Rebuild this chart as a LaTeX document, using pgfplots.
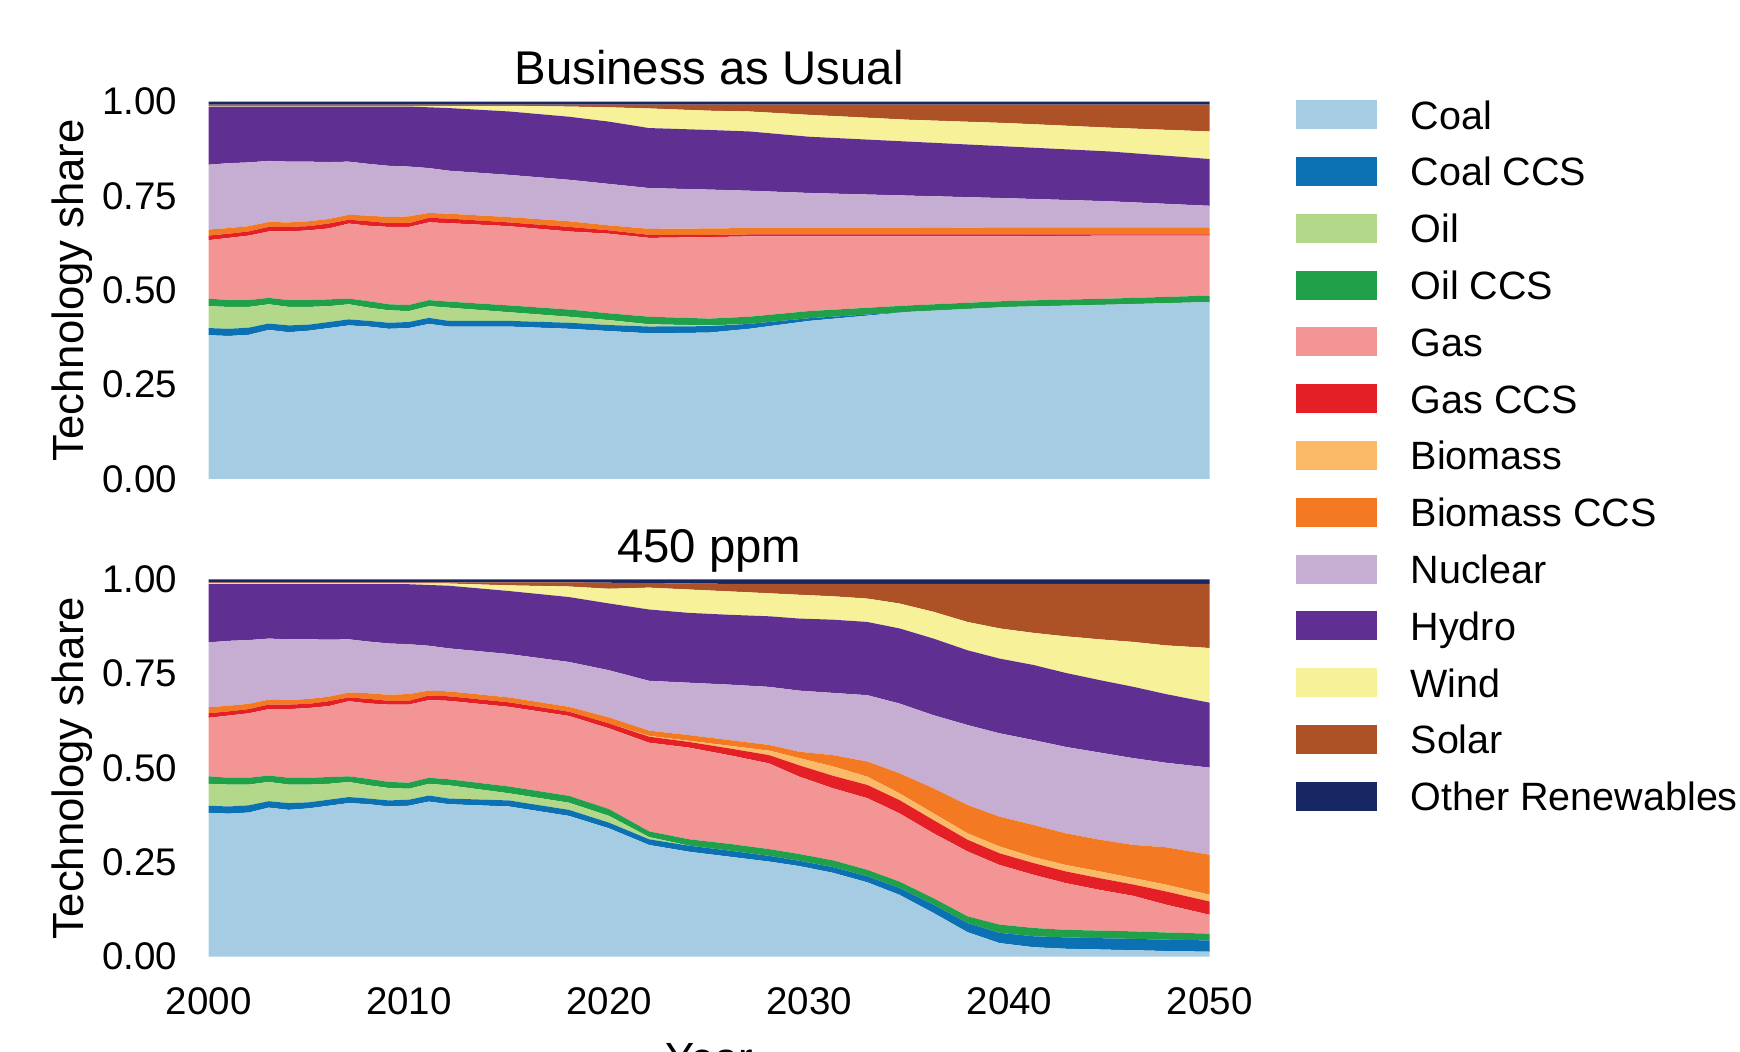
\documentclass[border=0pt]{standalone}
\usepackage{fontspec}
\setmainfont{Liberation Sans}
\usepackage{pgfplots}
\usepackage{pgfplotstable}
\pgfplotsset{compat=1.18}

\definecolor{cCoal}{HTML}{A5CCE2}
\definecolor{cCoalCCS}{HTML}{0B71B3}
\definecolor{cOil}{HTML}{B3D88A}
\definecolor{cOilCCS}{HTML}{1FA049}
\definecolor{cGas}{HTML}{F49595}
\definecolor{cGasCCS}{HTML}{E41F26}
\definecolor{cBio}{HTML}{FBBA68}
\definecolor{cBioCCS}{HTML}{F37A22}
\definecolor{cNuc}{HTML}{C5AED2}
\definecolor{cHydro}{HTML}{5F3091}
\definecolor{cWind}{HTML}{F7F29A}
\definecolor{cSolar}{HTML}{AD5126}
\definecolor{cOther}{HTML}{172764}

\pgfplotstableread{
year coal coalccs oil oilccs gas gasccs bio bioccs nuc hydro wind solar other
2000 .381 .019 .058 .020 .155 .012 0 .016 .172 .154 .002 .003 .008
2001 .379 .019 .058 .018 .165 .011 0 .015 .172 .150 .002 .003 .008
2002 .382 .019 .055 .018 .171 .011 0 .014 .169 .148 .002 .003 .008
2003 .395 .017 .051 .017 .176 .012 0 .013 .162 .144 .002 .003 .008
2004 .389 .018 .049 .018 .182 .012 0 .012 .161 .146 .002 .003 .008
2005 .393 .016 .047 .018 .185 .011 0 .013 .158 .146 .002 .003 .008
2006 .400 .016 .042 .018 .188 .013 0 .012 .151 .147 .002 .003 .008
2007 .407 .016 .040 .015 .199 .010 0 .013 .141 .146 .002 .003 .008
2008 .404 .015 .035 .017 .200 .012 0 .015 .137 .152 .002 .003 .008
2009 .398 .016 .033 .016 .205 .010 0 .016 .136 .157 .002 .003 .008
2010 .400 .016 .029 .016 .207 .010 0 .018 .132 .159 .002 .003 .008
2011 .411 .016 .031 .016 .206 .012 0 .013 .119 .161 .004 .003 .008
2012 .404 .015 .035 .016 .208 .012 0 .013 .114 .166 .006 .003 .008
2015 .404 .015 .023 .018 .210 .010 0 .014 .112 .168 .015 .003 .008
2018 .398 .016 .016 .019 .207 .012 0 .015 .110 .167 .027 .005 .008
2020 .392 .016 .013 .018 .211 .009 0 .013 .110 .165 .038 .007 .008
2022 .386 .018 .006 .020 .209 .008 0 .016 .108 .159 .052 .010 .008
2025 .388 .017 .002 .018 .216 .006 0 .017 .103 .158 .051 .016 .008
2027 .398 .013 0 .019 .213 .005 0 .017 .099 .157 .053 .018 .008
2030 .419 .007 0 .019 .198 .005 0 .017 .093 .149 .058 .027 .008
2035 .443 0 0 .017 .183 .005 0 .017 .086 .143 .058 .040 .008
2040 .456 0 0 .016 .171 .005 0 .019 .077 .137 .062 .049 .008
2045 .462 0 0 .016 .167 .003 0 .019 .069 .132 .063 .061 .008
2050 .469 0 0 .017 .159 .003 0 .019 .057 .124 .073 .071 .008
}\bau

\pgfplotstableread{
year coal coalccs oil oilccs gas gasccs bio bioccs nuc hydro wind solar other
2000 .381 .019 .058 .020 .155 .012 0 .016 .172 .154 .002 .003 .008
2001 .379 .019 .058 .018 .165 .011 0 .015 .172 .150 .002 .003 .008
2002 .382 .019 .055 .018 .171 .011 0 .014 .169 .148 .002 .003 .008
2003 .395 .017 .051 .017 .176 .012 0 .013 .162 .144 .002 .003 .008
2004 .389 .018 .049 .018 .182 .012 0 .012 .161 .146 .002 .003 .008
2005 .393 .016 .047 .018 .185 .011 0 .013 .158 .146 .002 .003 .008
2006 .400 .016 .042 .018 .188 .013 0 .012 .151 .147 .002 .003 .008
2007 .407 .016 .040 .015 .199 .010 0 .013 .141 .146 .002 .003 .008
2008 .404 .015 .035 .017 .200 .012 0 .015 .137 .152 .002 .003 .008
2009 .398 .016 .033 .016 .205 .010 0 .016 .136 .157 .002 .003 .008
2010 .400 .016 .029 .016 .207 .010 0 .018 .132 .159 .002 .003 .008
2011 .411 .016 .031 .016 .206 .012 0 .013 .119 .161 .004 .003 .008
2012 .404 .015 .035 .016 .208 .012 0 .013 .114 .166 .006 .003 .008
2015 .398 .016 .019 .018 .211 .012 0 .013 .115 .167 .015 .008 .008
2018 .373 .016 .019 .018 .212 .011 0 .013 .119 .172 .028 .011 .008
2020 .340 .015 .018 .018 .214 .013 0 .016 .125 .177 .039 .016 .009
2022 .296 .015 .006 .015 .235 .016 .002 .014 .132 .189 .058 .012 .010
2024 .278 .016 0 .017 .243 .015 .003 .015 .139 .185 .062 .016 .011
2026 .265 .016 0 .018 .235 .018 .007 .015 .147 .185 .062 .020 .012
2028 .252 .015 0 .018 .227 .022 .012 .015 .154 .187 .061 .025 .012
2029.5 .240 .014 0 .018 .205 .030 .019 .017 .162 .191 .063 .029 .012
2031.2 .222 .015 0 .018 .191 .033 .025 .030 .165 .194 .062 .033 .012
2032.9 .197 .016 0 .017 .190 .035 .022 .040 .176 .194 .062 .039 .012
2034.5 .164 .018 0 .017 .181 .035 .018 .053 .185 .199 .066 .052 .012
2036.2 .116 .022 0 .017 .172 .035 .018 .066 .194 .203 .071 .074 .012
2037.9 .065 .024 0 .018 .172 .031 .017 .075 .212 .198 .075 .101 .012
2039.5 .036 .027 0 .022 .158 .031 .018 .079 .221 .198 .080 .118 .012
2041.2 .025 .029 0 .022 .141 .031 .016 .085 .225 .199 .085 .130 .012
2042.8 .021 .030 0 .020 .124 .031 .017 .084 .229 .196 .097 .139 .012
2044.5 .019 .030 0 .020 .108 .031 .018 .084 .231 .192 .108 .147 .012
2046.2 .017 .030 0 .020 .094 .030 .017 .088 .230 .189 .119 .154 .012
2047.8 .015 .030 0 .019 .074 .035 .018 .099 .224 .182 .129 .163 .012
2050 .013 .030 0 .018 .050 .035 .018 .106 .231 .172 .145 .170 .012
}\ppm

\pgfplotsset{
  panel/.style={
    scale only axis, width=300.3pt, height=113.2pt,
    xmin=2000, xmax=2050, ymin=0, ymax=1,
    axis line style={draw=none}, major tick length=0pt, tick style={draw=none},
    ytick={0,0.25,0.5,0.75,1}, yticklabels={0.00,0.25,0.50,0.75,1.00},
    xtick={2000,2010,2020,2030,2040,2050},
    yticklabel style={font=\fontsize{11.55}{13}\selectfont, inner sep=0pt, anchor=east, xshift=-9.3pt},
    xticklabel style={font=\fontsize{11.55}{13}\selectfont, inner sep=0pt, anchor=north, yshift=-9pt},
    ylabel={Technology share},
    ylabel style={font=\fontsize{13.1}{15}\selectfont, at={(axis description cs:-0.1255,0.5)}, anchor=base, inner sep=0pt},
    every axis title shift=0pt,
    title style={font=\fontsize{14.2}{16}\selectfont, at={(axis description cs:0.5,1)}, anchor=base, yshift=5pt, inner sep=0pt},
    stack plots=y, area style,
  },
}

\newcommand{\layers}[1]{%
  \addplot[fill=cCoal, draw=none] table[x=year,y=coal]{#1} \closedcycle;
  \addplot[fill=cCoalCCS, draw=none] table[x=year,y=coalccs]{#1} \closedcycle;
  \addplot[fill=cOil, draw=none] table[x=year,y=oil]{#1} \closedcycle;
  \addplot[fill=cOilCCS, draw=none] table[x=year,y=oilccs]{#1} \closedcycle;
  \addplot[fill=cGas, draw=none] table[x=year,y=gas]{#1} \closedcycle;
  \addplot[fill=cGasCCS, draw=none] table[x=year,y=gasccs]{#1} \closedcycle;
  \addplot[fill=cBio, draw=none] table[x=year,y=bio]{#1} \closedcycle;
  \addplot[fill=cBioCCS, draw=none] table[x=year,y=bioccs]{#1} \closedcycle;
  \addplot[fill=cNuc, draw=none] table[x=year,y=nuc]{#1} \closedcycle;
  \addplot[fill=cHydro, draw=none] table[x=year,y=hydro]{#1} \closedcycle;
  \addplot[fill=cWind, draw=none] table[x=year,y=wind]{#1} \closedcycle;
  \addplot[fill=cSolar, draw=none] table[x=year,y=solar]{#1} \closedcycle;
  \addplot[fill=cOther, draw=none] table[x=year,y=other]{#1} \closedcycle;
}

\begin{document}
\begin{tikzpicture}
\useasboundingbox (0,0) rectangle (522pt,315.6pt);

\begin{axis}[panel, at={(62.6pt,171.9pt)}, anchor=south west,
  title={Business as Usual}, xticklabels={}]
\layers{\bau}
\end{axis}

\begin{axis}[panel, at={(62.6pt,28.6pt)}, anchor=south west,
  title={450 ppm}, xticklabels={2000,2010,2020,2030,2040,2050},
  xlabel={Year},
  xlabel style={font=\fontsize{13.1}{15}\selectfont, at={(axis description cs:0.5,-0.228)}, anchor=north, inner sep=0pt}]
\layers{\ppm}
\end{axis}

% legend
\foreach \c/\t [count=\i from 0] in {cCoal/Coal, cCoalCCS/Coal CCS, cOil/Oil, cOilCCS/Oil CCS, cGas/Gas, cGasCCS/Gas CCS, cBio/Biomass, cBioCCS/Biomass CCS, cNuc/Nuclear, cHydro/Hydro, cWind/Wind, cSolar/Solar, cOther/Other Renewables}{
  \pgfmathsetmacro{\yc}{(1052-114.7-56.8*\i)*0.3}
  \fill[\c] (388.8pt,\yc pt-4.35pt) rectangle (413.1pt,\yc pt+4.35pt);
  \node[anchor=base west, inner sep=0pt, font=\fontsize{11.85}{14}\selectfont] at (423pt,\yc pt-4.35pt) {\t};
}
\end{tikzpicture}
\end{document}
